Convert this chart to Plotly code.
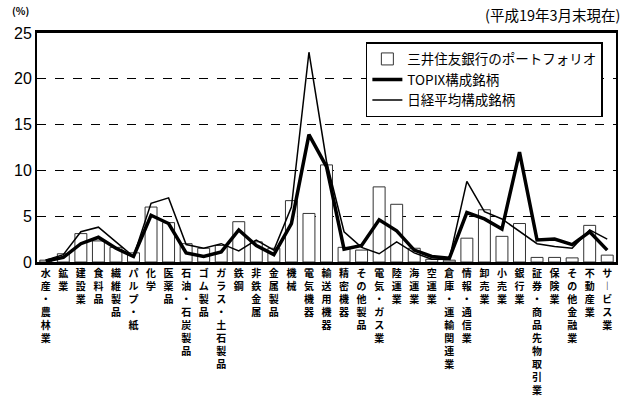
import plotly.graph_objects as go

categories = ["水産・農林業", "鉱業", "建設業", "食料品", "繊維製品", "パルプ・紙", "化学", "医薬品",
              "石油・石炭製品", "ゴム製品", "ガラス・土石製品", "鉄鋼", "非鉄金属", "金属製品", "機械",
              "電気機器", "輸送用機器", "精密機器", "その他製品", "電気・ガス業", "陸運業", "海運業",
              "空運業", "倉庫・運輸関連業", "情報・通信業", "卸売業", "小売業", "銀行業",
              "証券・商品先物取引業", "保険業", "その他金融業", "不動産業", "サービス業"]

smbc = [0.2, 0.9, 3.1, 2.3, 1.6, 1.0, 6.0, 4.3, 2.0, 1.5, 1.8, 4.4, 2.2, 1.5, 6.7, 5.3, 10.6,
        1.6, 1.3, 8.2, 6.3, 1.5, 0.3, 0.2, 2.6, 5.7, 2.8, 4.2, 0.5, 0.5, 0.45, 4.0, 0.75]
topix = [0.1, 0.5, 2.0, 2.7, 1.5, 0.6, 5.1, 4.2, 1.0, 0.6, 1.1, 3.5, 1.8, 0.8, 4.2, 13.9, 10.4,
         1.4, 1.8, 4.6, 3.4, 1.3, 0.6, 0.4, 5.4, 4.7, 3.6, 12.0, 2.4, 2.5, 1.9, 3.3, 1.3]
nikkei = [0.2, 0.8, 3.3, 3.8, 2.2, 0.6, 6.4, 7.0, 1.9, 1.5, 2.0, 1.2, 2.4, 1.3, 6.0, 22.9, 11.0,
          3.3, 1.6, 0.9, 2.2, 1.0, 0.3, 0.3, 8.8, 5.5, 4.7, 3.3, 2.0, 1.7, 1.5, 3.5, 2.5]
y_ticks = [0, 5, 10, 15, 20, 25]

series_names = ["三井住友銀行のポートフォリオ", "TOPIX構成銘柄", "日経平均構成銘柄"]


def vertical(label):
    return "<b>" + "<br>".join(ch if ch != "ー" else "︱" for ch in label) + "</b>"


tick_text = [vertical(c) for c in categories]
FONT = "Noto Sans CJK JP"

fig = go.Figure()
fig.add_trace(go.Bar(x=categories, y=smbc, name=series_names[0], width=0.68,
                     marker=dict(color="white", line=dict(color="#333", width=1))))
fig.add_trace(go.Scatter(x=categories, y=topix, name=series_names[1], mode="lines",
                         line=dict(color="black", width=3.5)))
fig.add_trace(go.Scatter(x=categories, y=nikkei, name=series_names[2], mode="lines",
                         line=dict(color="black", width=1.5)))

fig.update_layout(
    width=624, height=413,
    margin=dict(l=37, r=6, t=33, b=151),
    paper_bgcolor="white", plot_bgcolor="white",
    font=dict(family=FONT, color="black"),
    showlegend=True,
    legend=dict(x=0.568, y=0.96, xanchor="left", yanchor="top",
                bgcolor="white", bordercolor="black", borderwidth=1.5,
                font=dict(size=13.5, family=FONT), tracegroupgap=0,
                itemwidth=30),
    xaxis=dict(tickmode="array", tickvals=categories, ticktext=tick_text,
               tickangle=0, tickfont=dict(size=10, family=FONT),
               showline=True, linecolor="black", linewidth=2.5, mirror=True,
               ticks="", showgrid=False, range=[-0.5, len(categories) - 0.5]),
    yaxis=dict(range=[0, 25], tickvals=y_ticks, ticktext=[str(v) for v in y_ticks],
               tickfont=dict(size=16, family="Liberation Sans"),
               showline=True, linecolor="black", linewidth=2, mirror=True,
               showgrid=True, gridcolor="black", griddash="dash", gridwidth=1,
               ticks="", zeroline=False),
    bargap=0.3,
    annotations=[
        dict(text="<b>(%)</b>", xref="paper", yref="paper", x=-0.047, y=1.055, xanchor="left",
             yanchor="bottom", showarrow=False, font=dict(size=10, family=FONT)),
        dict(text="(平成19年3月末現在)", xref="paper", yref="paper", x=1.01, y=1.025,
             xanchor="right", yanchor="bottom", showarrow=False, font=dict(size=14.5, family=FONT)),
    ],
)

fig.write_html("out.html", config={"displayModeBar": False},
               post_script="document.body.style.margin='0';")
